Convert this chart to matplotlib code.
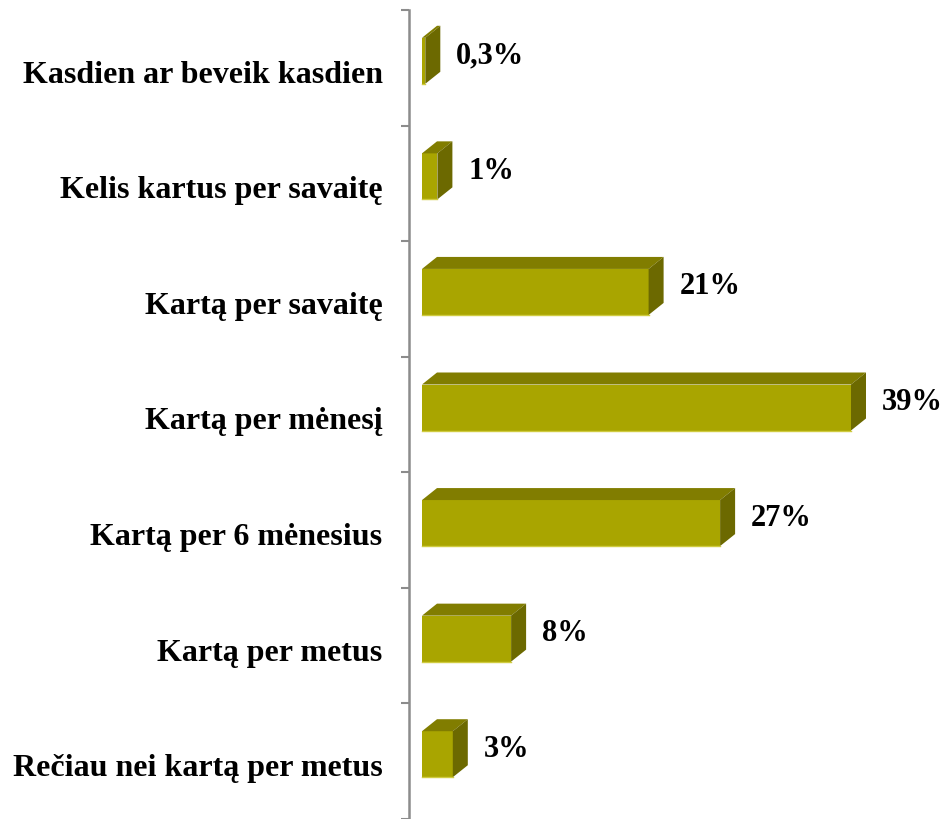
import matplotlib.pyplot as plt
from matplotlib.patches import Polygon
import numpy as np

categories = ['Kasdien ar beveik kasdien', 'Kelis kartus per savaitę', 'Kartą per savaitę',
              'Kartą per mėnesį', 'Kartą per 6 mėnesius', 'Kartą per metus',
              'Rečiau nei kartą per metus']
values = [0.3, 1.4, 20.6, 39.0, 27.1, 8.1, 2.8]
value_labels = ['0,3%', '1%', '21%', '39%', '27%', '8%', '3%']

plt.rcParams['font.family'] = ['Liberation Serif', 'DejaVu Serif']

front = '#a9a500'
top = '#817d00'
side = '#6c6900'

fig = plt.figure(figsize=(9.47, 8.19), dpi=100)
ax = fig.add_axes([409/947, 0, 1 - 409/947, 1 - 10/819])

px_x = 11.0          # px per percent
px_y = 809 / 7       # px per row
dx = 15 / px_x
dy = 12 / px_y
h = 46 / px_y
shift = 7 / px_y

ax.set_xlim(-13 / px_x, (947 - 409) / px_x - 13 / px_x)
ax.set_ylim(7, 0)

centers = np.arange(len(categories)) + 0.5
yc = centers - shift

ax.barh(yc, values, height=h, color=front, edgecolor='none', zorder=2)
for y, v, lab in zip(yc, values, value_labels):
    y0, y1 = y - h / 2, y + h / 2
    ax.add_patch(Polygon([(0, y0), (dx, y0 - dy), (v + dx, y0 - dy), (v, y0)],
                         closed=True, facecolor=top, edgecolor='none', zorder=2))
    ax.add_patch(Polygon([(v, y0), (v + dx, y0 - dy), (v + dx, y1 - dy), (v, y1)],
                         closed=True, facecolor=side, edgecolor='none', zorder=2))
    ax.plot([0, v], [y1, y1], color='#cfcb40', lw=1, zorder=3)
    ax.text(v + dx + 16 / px_x, y - 5 / px_y, lab, fontsize=22, fontweight='bold',
            va='center', ha='left', clip_on=False)

ax.set_yticks(centers + 4 / px_y)
ax.set_yticklabels(categories, fontsize=23, fontweight='bold')
ax.tick_params(axis='y', which='major', length=0, pad=19)
ax.set_yticks(np.arange(0, 8), minor=True)
ax.tick_params(axis='y', which='minor', length=6, width=1.5, color='#8c8c8c', direction='out')
ax.set_xticks([])

for s in ['top', 'right', 'bottom']:
    ax.spines[s].set_visible(False)
ax.spines['left'].set_color('#8c8c8c')
ax.spines['left'].set_linewidth(1.8)

fig.savefig('out.png', dpi=100)
